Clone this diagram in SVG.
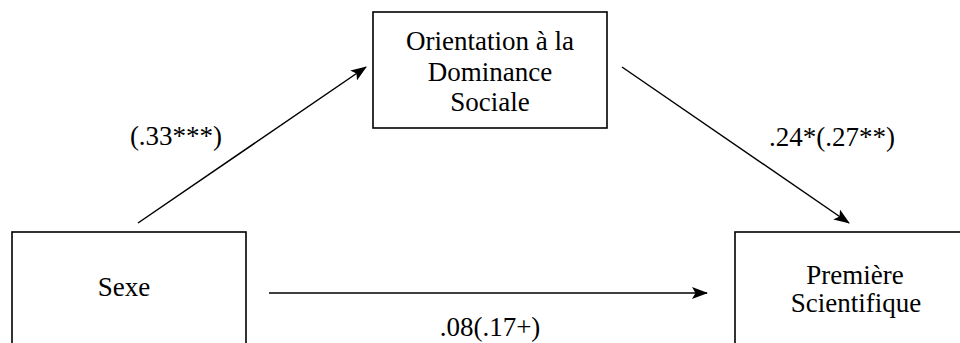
<svg xmlns="http://www.w3.org/2000/svg" width="960" height="343" viewBox="0 0 960 343">
  <style>
    .box { fill: #fff; stroke: #000; stroke-width: 1.6; }
    .lbl { font-family: "Liberation Serif", "Times New Roman", serif; font-size: 27px; fill: #000; text-anchor: middle; }
    .edge { stroke: #000; stroke-width: 1.5; fill: none; marker-end: url(#head); }
  </style>
  <defs>
    <marker id="head" viewBox="0 0 16 12" refX="15" refY="6" markerWidth="16" markerHeight="12" markerUnits="userSpaceOnUse" orient="auto">
      <path d="M0,0 L16,6 L0,12 L3.5,6 Z" fill="#000"/>
    </marker>
  </defs>
  <rect width="960" height="343" fill="#fff"/>

  <g id="node-sdo">
    <rect class="box" x="373" y="12" width="234" height="116"/>
    <text class="lbl" x="490" y="50">Orientation à la</text>
    <text class="lbl" x="490" y="81">Dominance</text>
    <text class="lbl" x="490" y="111">Sociale</text>
  </g>

  <g id="node-sexe">
    <rect class="box" x="12" y="232" width="234" height="130"/>
    <text class="lbl" x="124" y="296">Sexe</text>
  </g>

  <g id="node-premiere">
    <rect class="box" x="735" y="232" width="240" height="130"/>
    <text class="lbl" x="855" y="284">Première</text>
    <text class="lbl" x="856" y="312">Scientifique</text>
  </g>

  <g id="connectors">
    <line class="edge" x1="138" y1="223" x2="366" y2="67"/>
    <line class="edge" x1="622" y1="67" x2="849" y2="223"/>
    <line class="edge" x1="269" y1="293" x2="707" y2="293"/>
    <text class="lbl" x="176" y="145">(.33***)</text>
    <text class="lbl" x="832" y="146">.24*(.27**)</text>
    <text class="lbl" x="490" y="336">.08(.17+)</text>
  </g>
</svg>
